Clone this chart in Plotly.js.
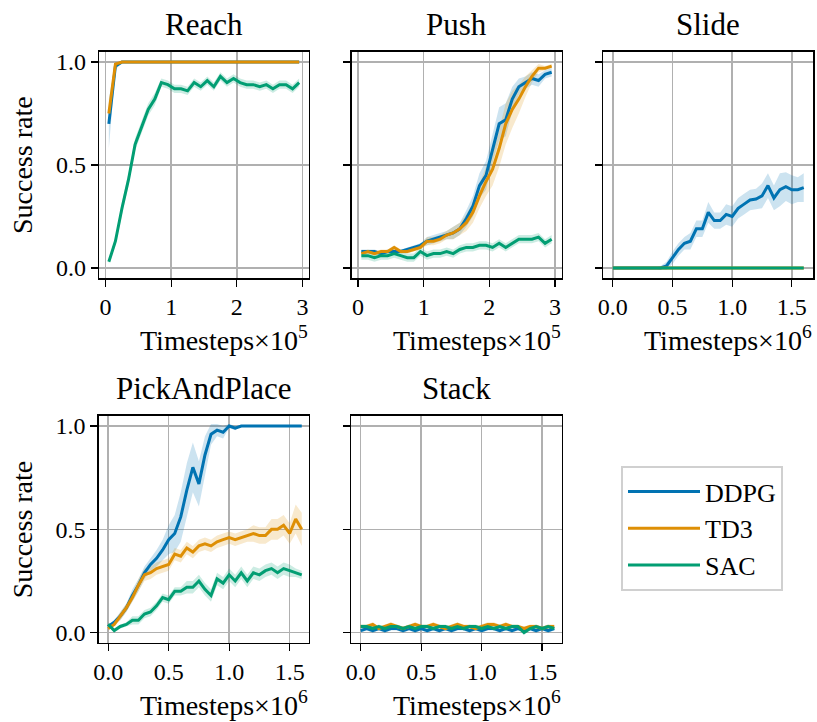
<!DOCTYPE html>
<html>
<head>
<meta charset="utf-8">
<script src="https://cdn.plot.ly/plotly-3.0.1.min.js"></script>
<style>html,body{margin:0;padding:0;background:#fff;}#chart{width:817px;height:722px;}</style>
</head>
<body>
<div id="chart"></div>
<script>
// ---------- data (x in units of the axis multiplier) ----------
const algoNames = ["DDPG", "TD3", "SAC"];
const taskNames = ["Reach", "Push", "Slide", "PickAndPlace", "Stack"];
const xLabels = ["Timesteps×10<sup>5</sup>", "Timesteps×10<sup>5</sup>", "Timesteps×10<sup>6</sup>", "Timesteps×10<sup>6</sup>", "Timesteps×10<sup>6</sup>"];

// Reach & Push (×10^5 timesteps)
const shortX = [0.05,0.15,0.25,0.35,0.45,0.55,0.65,0.75,0.85,0.95,1.05,1.15,1.25,1.35,1.45,1.55,1.65,1.75,1.85,1.95,2.05,2.15,2.25,2.35,2.45,2.55,2.65,2.75,2.85,2.95];
// Slide, PickAndPlace, Stack (×10^6 timesteps)
const longX = [0,0.05,0.10,0.15,0.20,0.25,0.30,0.35,0.40,0.45,0.50,0.55,0.60,0.65,0.70,0.75,0.80,0.85,0.90,0.95,1.00,1.05,1.10,1.15,1.20,1.25,1.30,1.35,1.40,1.45,1.50,1.55,1.60];

const reachDDPG   = [0.70,0.98,1.00,1.00,1.00,1.00,1.00,1.00,1.00,1.00,1.00,1.00,1.00,1.00,1.00,1.00,1.00,1.00,1.00,1.00,1.00,1.00,1.00,1.00,1.00,1.00,1.00,1.00,1.00,1.00];
const reachDDPGsd = [0.12,0.02,0,0,0,0,0,0,0,0,0,0,0,0,0,0,0,0,0,0,0,0,0,0,0,0,0,0,0,0];
const reachTD3    = [0.75,0.99,1.00,1.00,1.00,1.00,1.00,1.00,1.00,1.00,1.00,1.00,1.00,1.00,1.00,1.00,1.00,1.00,1.00,1.00,1.00,1.00,1.00,1.00,1.00,1.00,1.00,1.00,1.00,1.00];
const reachTD3sd  = [0.03,0.01,0,0,0,0,0,0,0,0,0,0,0,0,0,0,0,0,0,0,0,0,0,0,0,0,0,0,0,0];
const reachSAC    = [0.03,0.13,0.29,0.43,0.60,0.69,0.77,0.82,0.90,0.89,0.87,0.87,0.86,0.90,0.88,0.91,0.88,0.93,0.90,0.92,0.90,0.89,0.89,0.88,0.89,0.87,0.89,0.89,0.87,0.90];
const reachSACsd  = [0.01,0.02,0.03,0.03,0.03,0.03,0.03,0.03,0.02,0.02,0.02,0.02,0.02,0.02,0.02,0.02,0.02,0.02,0.02,0.02,0.02,0.02,0.02,0.02,0.02,0.02,0.02,0.02,0.02,0.02];

const pushDDPG   = [0.08,0.08,0.08,0.07,0.08,0.08,0.08,0.09,0.10,0.11,0.13,0.14,0.15,0.16,0.17,0.19,0.24,0.30,0.40,0.45,0.58,0.70,0.72,0.82,0.88,0.90,0.92,0.91,0.94,0.95];
const pushDDPGsd = [0.01,0.01,0.01,0.01,0.01,0.01,0.01,0.01,0.01,0.01,0.02,0.02,0.02,0.02,0.03,0.03,0.04,0.05,0.06,0.07,0.07,0.08,0.08,0.06,0.04,0.03,0.03,0.03,0.02,0.02];
const pushTD3    = [0.07,0.08,0.07,0.08,0.08,0.10,0.08,0.08,0.09,0.10,0.13,0.13,0.14,0.16,0.17,0.19,0.22,0.27,0.35,0.42,0.48,0.58,0.70,0.77,0.82,0.88,0.93,0.97,0.97,0.98];
const pushTD3sd  = [0.01,0.01,0.01,0.01,0.01,0.01,0.01,0.01,0.01,0.01,0.02,0.02,0.02,0.02,0.03,0.03,0.04,0.05,0.06,0.07,0.08,0.09,0.10,0.09,0.07,0.05,0.03,0.02,0.01,0.01];
const pushSAC    = [0.06,0.06,0.05,0.06,0.06,0.07,0.06,0.05,0.05,0.08,0.06,0.07,0.07,0.08,0.07,0.09,0.10,0.10,0.11,0.11,0.10,0.12,0.10,0.12,0.14,0.14,0.14,0.15,0.12,0.14];
const pushSACsd  = [0.02,0.02,0.02,0.02,0.02,0.02,0.02,0.02,0.02,0.02,0.02,0.02,0.02,0.02,0.02,0.02,0.02,0.02,0.02,0.02,0.02,0.02,0.02,0.02,0.02,0.02,0.02,0.02,0.02,0.02];

const slideDDPG   = [0,0,0,0,0,0,0,0,0,0.01,0.05,0.09,0.12,0.13,0.19,0.19,0.27,0.23,0.23,0.26,0.25,0.29,0.31,0.33,0.335,0.35,0.40,0.34,0.38,0.395,0.38,0.38,0.39];
const slideDDPGsd = [0,0,0,0,0,0,0,0,0.01,0.02,0.03,0.03,0.03,0.04,0.04,0.04,0.05,0.04,0.04,0.05,0.05,0.05,0.05,0.05,0.05,0.06,0.06,0.06,0.08,0.07,0.07,0.06,0.07];
const slideTD3    = [0,0,0,0,0,0,0,0,0,0,0,0,0,0,0,0,0,0,0,0,0,0,0,0,0,0,0,0,0,0,0,0,0];
const slideTD3sd  = [0,0,0,0,0,0,0,0,0,0,0,0,0,0,0,0,0,0,0,0,0,0,0,0,0,0,0,0,0,0,0,0,0];
const slideSAC    = [0,0,0,0,0,0,0,0,0,0,0,0,0,0,0,0,0,0,0,0,0,0,0,0,0,0,0,0,0,0,0,0,0];
const slideSACsd  = [0,0,0,0,0,0,0,0,0,0,0,0,0,0,0,0,0,0,0,0,0,0,0,0,0,0,0,0,0,0,0,0,0];

const pnpDDPG   = [0.03,0.05,0.08,0.12,0.18,0.23,0.29,0.33,0.36,0.40,0.45,0.48,0.56,0.69,0.80,0.72,0.86,0.96,0.98,0.97,1.00,0.99,1.00,1.00,1.00,1.00,1.00,1.00,1.00,1.00,1.00,1.00,1.00];
const pnpDDPGsd = [0.01,0.01,0.02,0.02,0.03,0.03,0.03,0.03,0.04,0.05,0.07,0.09,0.12,0.13,0.12,0.11,0.09,0.05,0.03,0.03,0.01,0.01,0,0,0,0,0,0,0,0,0,0,0];
const pnpTD3    = [0.02,0.04,0.08,0.12,0.17,0.23,0.28,0.29,0.31,0.32,0.33,0.38,0.37,0.41,0.39,0.42,0.43,0.42,0.44,0.45,0.46,0.45,0.46,0.47,0.48,0.47,0.47,0.50,0.50,0.52,0.48,0.55,0.50];
const pnpTD3sd  = [0.01,0.01,0.02,0.02,0.02,0.03,0.03,0.03,0.03,0.03,0.03,0.03,0.03,0.03,0.03,0.03,0.03,0.03,0.03,0.03,0.03,0.03,0.03,0.03,0.04,0.04,0.04,0.05,0.05,0.05,0.05,0.07,0.08];
const pnpSAC    = [0.04,0.01,0.03,0.04,0.06,0.06,0.09,0.10,0.13,0.17,0.16,0.20,0.20,0.22,0.22,0.25,0.21,0.18,0.26,0.24,0.28,0.25,0.29,0.25,0.29,0.28,0.30,0.31,0.29,0.31,0.30,0.29,0.28];
const pnpSACsd  = [0.01,0.01,0.01,0.01,0.02,0.02,0.02,0.02,0.02,0.02,0.02,0.02,0.02,0.03,0.03,0.03,0.03,0.03,0.03,0.03,0.03,0.03,0.03,0.03,0.03,0.03,0.03,0.03,0.03,0.03,0.03,0.02,0.02];

const stackDDPG   = [0.01,0.02,0.01,0.02,0.01,0.02,0.02,0.01,0.02,0.01,0.02,0.01,0.02,0.01,0.02,0.01,0.02,0.02,0.01,0.02,0.01,0.02,0.02,0.01,0.02,0.01,0.02,0.01,0.02,0.01,0.02,0.01,0.02];
const stackDDPGsd = [0.01,0.01,0.01,0.01,0.01,0.01,0.01,0.01,0.01,0.01,0.01,0.01,0.01,0.01,0.01,0.01,0.01,0.01,0.01,0.01,0.01,0.01,0.01,0.01,0.01,0.01,0.01,0.01,0.01,0.01,0.01,0.01,0.01];
const stackTD3    = [0.03,0.03,0.04,0.02,0.03,0.04,0.03,0.02,0.03,0.04,0.03,0.03,0.04,0.03,0.02,0.03,0.04,0.03,0.03,0.02,0.03,0.04,0.04,0.03,0.04,0.03,0.03,0.02,0.03,0.03,0.02,0.03,0.03];
const stackTD3sd  = [0.01,0.01,0.01,0.01,0.01,0.01,0.01,0.01,0.01,0.01,0.01,0.01,0.01,0.01,0.01,0.01,0.01,0.01,0.01,0.01,0.01,0.01,0.01,0.01,0.01,0.01,0.01,0.01,0.01,0.01,0.01,0.01,0.01];
const stackSAC    = [0.03,0.03,0.02,0.03,0.02,0.03,0.03,0.02,0.03,0.02,0.03,0.03,0.02,0.03,0.03,0.02,0.03,0.02,0.03,0.03,0.02,0.03,0.02,0.03,0.02,0.03,0.03,0.00,0.02,0.03,0.02,0.03,0.02];
const stackSACsd  = [0.01,0.01,0.01,0.01,0.01,0.01,0.01,0.01,0.01,0.01,0.01,0.01,0.01,0.01,0.01,0.01,0.01,0.01,0.01,0.01,0.01,0.01,0.01,0.01,0.01,0.01,0.01,0.01,0.01,0.01,0.01,0.01,0.01];

const xTicksShort = [0, 1, 2, 3];
const xTicksLong = [0, 0.5, 1.0, 1.5];
const yTicks = [0, 0.5, 1.0];

// ---------- build ----------
const colors = ["#0173b2", "#de8f05", "#029e73"];
const fills = ["rgba(1,115,178,0.2)", "rgba(222,143,5,0.2)", "rgba(2,158,115,0.2)"];

const panels = [
  {x: shortX, m: [reachDDPG, reachTD3, reachSAC], s: [reachDDPGsd, reachTD3sd, reachSACsd], ticks: xTicksShort, fmt: "d", range: [-0.1, 3.1], dom: [99, 309], row: 0},
  {x: shortX, m: [pushDDPG, pushTD3, pushSAC], s: [pushDDPGsd, pushTD3sd, pushSACsd], ticks: xTicksShort, fmt: "d", range: [-0.1, 3.1], dom: [351.5, 561.5], row: 0},
  {x: longX, m: [slideDDPG, slideTD3, slideSAC], s: [slideDDPGsd, slideTD3sd, slideSACsd], ticks: xTicksLong, fmt: ".1f", range: [-0.08, 1.68], dom: [603.3, 813.3], row: 0},
  {x: longX, m: [pnpDDPG, pnpTD3, pnpSAC], s: [pnpDDPGsd, pnpTD3sd, pnpSACsd], ticks: xTicksLong, fmt: ".1f", range: [-0.08, 1.66], dom: [98.5, 309], row: 1},
  {x: longX, m: [stackDDPG, stackTD3, stackSAC], s: [stackDDPGsd, stackTD3sd, stackSACsd], ticks: xTicksLong, fmt: ".1f", range: [-0.08, 1.66], dom: [351, 561.5], row: 1}
];

const W = 817, H = 722;
const rowPx = [[51.7, 278.3], [415.7, 643]];
const fontFam = "Liberation Serif";

const traces = [];
const layout = {
  width: W, height: H,
  margin: {l: 0, r: 0, t: 0, b: 0},
  paper_bgcolor: "#ffffff", plot_bgcolor: "#ffffff",
  font: {family: fontFam, size: 24, color: "#000"},
  showlegend: true,
  legend: {
    x: 621 / W, y: 1 - 466 / H, xanchor: "left", yanchor: "top",
    bgcolor: "#ffffff", bordercolor: "#d0d0d0", borderwidth: 2,
    font: {family: fontFam, size: 26, color: "#000"},
    tracegroupgap: 0, itemwidth: 72, entrywidth: 106, entrywidthmode: "pixels"
  },
  annotations: []
};

panels.forEach((p, i) => {
  const k = i + 1;
  const xa = "x" + (k === 1 ? "" : k), ya = "y" + (k === 1 ? "" : k);
  for (let a = 0; a < 3; a++) {
    const up = p.m[a].map((v, j) => v + p.s[a][j]);
    const lo = p.m[a].map((v, j) => v - p.s[a][j]);
    traces.push({x: p.x, y: up, xaxis: xa, yaxis: ya, mode: "lines", line: {width: 0, color: fills[a]}, showlegend: false, hoverinfo: "skip"});
    traces.push({x: p.x, y: lo, xaxis: xa, yaxis: ya, mode: "lines", line: {width: 0, color: fills[a]}, fill: "tonexty", fillcolor: fills[a], showlegend: false, hoverinfo: "skip"});
  }
  for (let a = 0; a < 3; a++) {
    traces.push({x: p.x, y: p.m[a], xaxis: xa, yaxis: ya, mode: "lines", name: algoNames[a], line: {color: colors[a], width: 3}, showlegend: k === 1, legendgroup: algoNames[a]});
  }
  const rp = rowPx[p.row];
  const axCommon = {
    showline: true, mirror: true, linecolor: "#000", linewidth: 1.3,
    ticks: "outside", ticklen: 7, tickwidth: 1.3, tickcolor: "#000",
    showgrid: true, gridcolor: "#b0b0b0", gridwidth: 1.4, zeroline: false,
    tickfont: {family: fontFam, size: 24, color: "#000"}
  };
  layout["xaxis" + (k === 1 ? "" : k)] = Object.assign({}, axCommon, {
    domain: [p.dom[0] / W, p.dom[1] / W], anchor: ya, range: p.range,
    tickvals: p.ticks, tickformat: p.fmt
  });
  layout["yaxis" + (k === 1 ? "" : k)] = Object.assign({}, axCommon, {
    domain: [1 - rp[1] / H, 1 - rp[0] / H], anchor: xa, range: [-0.05, 1.05],
    tickvals: yTicks, tickformat: ".1f", showticklabels: (k === 1 || k === 4)
  });
  const cx = (p.dom[0] + p.dom[1]) / 2 / W;
  layout.annotations.push({xref: "paper", yref: "paper", x: cx, y: 1 - (rp[0] - 27) / H, xanchor: "center", yanchor: "middle", text: taskNames[i], showarrow: false, font: {family: fontFam, size: 31, color: "#000"}});
  layout.annotations.push({xref: "paper", yref: "paper", x: (p.dom[1] + 1) / W, y: 1 - (rp[1] + 60) / H, xanchor: "right", yanchor: "middle", text: xLabels[i], showarrow: false, font: {family: fontFam, size: 28, color: "#000"}});
});
[0, 1].forEach(r => {
  const rp = rowPx[r];
  layout.annotations.push({xref: "paper", yref: "paper", x: 22 / W, y: 1 - (rp[0] + rp[1]) / 2 / H, xanchor: "center", yanchor: "middle", textangle: -90, text: "Success rate", showarrow: false, font: {family: fontFam, size: 28, color: "#000"}});
});

Plotly.newPlot("chart", traces, layout, {staticPlot: true, displayModeBar: false});
</script>
</body>
</html>
